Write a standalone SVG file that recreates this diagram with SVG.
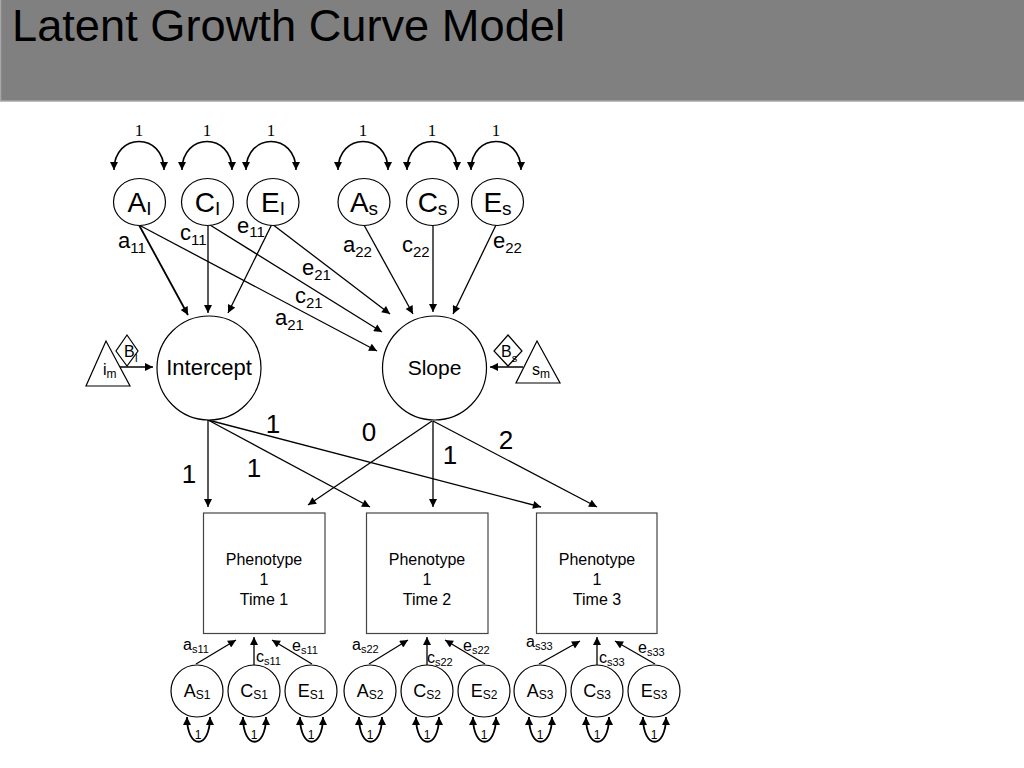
<svg xmlns="http://www.w3.org/2000/svg" width="1024" height="768" viewBox="0 0 1024 768">
<style>
text{font-family:"Liberation Sans",Arial,sans-serif;fill:#000}
.serif{font-family:"Liberation Serif","Times New Roman",serif}
.nd{fill:#fff;stroke:#000;stroke-width:1.2}
.box{fill:#fff;stroke:#444;stroke-width:1.2}
.c{stroke:#000;stroke-width:1.3;fill:none;marker-end:url(#ah)}
.lp{stroke:#000;stroke-width:1.5;fill:none;marker-start:url(#ah);marker-end:url(#ah)}
.lps{stroke:#000;stroke-width:1.8;fill:none;marker-start:url(#ahs);marker-end:url(#ahs)}
.mid{text-anchor:middle}
</style>
<defs>
<marker id="ah" viewBox="0 0 10 10" refX="10" refY="5" markerWidth="10" markerHeight="8" markerUnits="userSpaceOnUse" orient="auto-start-reverse"><path d="M0,0 L10,5 L0,10 z" fill="#000"/></marker>
<marker id="ahs" viewBox="0 0 10 10" refX="10" refY="5" markerWidth="9" markerHeight="8" markerUnits="userSpaceOnUse" orient="auto-start-reverse"><path d="M0,0 L10,5 L0,10 z" fill="#000"/></marker>
</defs>

<g id="header">
<rect x="0.5" y="-2" width="1030" height="103" fill="#808080" stroke="#a8a8a8" stroke-width="1.5"/>
<text x="12" y="41" font-size="45" textLength="553" lengthAdjust="spacingAndGlyphs">Latent Growth Curve Model</text>
</g>

<g id="connectors">
<path class="c" d="M139,225 L188,315" style="stroke-width:1.8"/>
<path class="c" d="M208,226 L208,313"/>
<path class="c" d="M272,224 L228,313"/>
<path class="c" d="M139,225 L377,351"/>
<path class="c" d="M210,225 L382,332"/>
<path class="c" d="M272,224 L390,314"/>
<path class="c" d="M364,225 L413,314"/>
<path class="c" d="M433,226 L433,312"/>
<path class="c" d="M496,225 L453,314"/>
<path class="c" d="M120,367 L153,367"/>
<path class="c" d="M523,367 L490,367"/>
<path class="c" d="M208,420 L208,507"/>
<path class="c" d="M208,420 L370,507"/>
<path class="c" d="M208,420 L541,507"/>
<path class="c" d="M432,421 L308,505"/>
<path class="c" d="M433,421 L433,507"/>
<path class="c" d="M433,421 L597,507"/>
<path class="c" d="M196,664 L236,640"/>
<path class="c" d="M254,665 L254,637"/>
<path class="c" d="M312,664 L272,640"/>
<path class="c" d="M369,664 L408,640"/>
<path class="c" d="M427,665 L427,637"/>
<path class="c" d="M485,664 L445,640"/>
<path class="c" d="M539,664 L580,641"/>
<path class="c" d="M597,665 L597,637"/>
<path class="c" d="M655,664 L615,641"/>
<path class="lp" d="M114,170 C114,132 164,132 164,170"/>
<path class="lp" d="M182,170 C182,132 232,132 232,170"/>
<path class="lp" d="M246,170 C246,132 296,132 296,170"/>
<path class="lp" d="M338,170 C338,132 388,132 388,170"/>
<path class="lp" d="M407,170 C407,132 457,132 457,170"/>
<path class="lp" d="M471,170 C471,132 521,132 521,170"/>
<path class="lps" d="M187,717 C187,750 210,750 210,717"/>
<path class="lps" d="M243,717 C243,750 266,750 266,717"/>
<path class="lps" d="M300,717 C300,750 323,750 323,717"/>
<path class="lps" d="M359,717 C359,750 382,750 382,717"/>
<path class="lps" d="M416,717 C416,750 439,750 439,717"/>
<path class="lps" d="M473,717 C473,750 496,750 496,717"/>
<path class="lps" d="M529,717 C529,750 552,750 552,717"/>
<path class="lps" d="M586,717 C586,750 609,750 609,717"/>
<path class="lps" d="M643,717 C643,750 666,750 666,717"/>
</g>

<g id="loop-labels">
<text class="serif mid" x="139" y="136" font-size="17">1</text>
<text class="serif mid" x="207" y="136" font-size="17">1</text>
<text class="serif mid" x="271" y="136" font-size="17">1</text>
<text class="serif mid" x="363" y="136" font-size="17">1</text>
<text class="serif mid" x="432" y="136" font-size="17">1</text>
<text class="serif mid" x="496" y="136" font-size="17">1</text>
<text class="mid" x="198" y="739" font-size="12">1</text>
<text class="mid" x="254" y="739" font-size="12">1</text>
<text class="mid" x="311" y="739" font-size="12">1</text>
<text class="mid" x="370" y="739" font-size="12">1</text>
<text class="mid" x="427" y="739" font-size="12">1</text>
<text class="mid" x="484" y="739" font-size="12">1</text>
<text class="mid" x="540" y="739" font-size="12">1</text>
<text class="mid" x="597" y="739" font-size="12">1</text>
<text class="mid" x="654" y="739" font-size="12">1</text>
</g>

<g id="path-labels" font-size="22">
<text x="118" y="248">a<tspan dy="5" font-size="15">11</tspan></text>
<text x="180" y="240">c<tspan dy="5" font-size="15">11</tspan></text>
<text x="237" y="233">e<tspan dy="4" font-size="15">11</tspan></text>
<text x="302" y="275">e<tspan dy="5" font-size="15">21</tspan></text>
<text x="295" y="303">c<tspan dy="5" font-size="15">21</tspan></text>
<text x="275" y="325">a<tspan dy="5" font-size="15">21</tspan></text>
<text x="343" y="252">a<tspan dy="5" font-size="15">22</tspan></text>
<text x="402" y="252">c<tspan dy="5" font-size="15">22</tspan></text>
<text x="493" y="248">e<tspan dy="5" font-size="15">22</tspan></text>
<text class="mid" x="189" y="483" font-size="26">1</text>
<text class="mid" x="254" y="477" font-size="26">1</text>
<text class="mid" x="273" y="433" font-size="26">1</text>
<text class="mid" x="369" y="441" font-size="26">0</text>
<text class="mid" x="450" y="464" font-size="26">1</text>
<text class="mid" x="506" y="449" font-size="26">2</text>
<text x="183" y="650" font-size="16">a<tspan dy="3" font-size="11">s11</tspan></text>
<text x="256" y="662" font-size="16">c<tspan dy="3" font-size="11">s11</tspan></text>
<text x="292" y="651" font-size="16">e<tspan dy="3" font-size="11">s11</tspan></text>
<text x="352" y="650" font-size="16">a<tspan dy="3" font-size="11">s22</tspan></text>
<text x="427" y="663" font-size="16">c<tspan dy="3" font-size="11">s22</tspan></text>
<text x="463" y="651" font-size="16">e<tspan dy="3" font-size="11">s22</tspan></text>
<text x="526" y="647" font-size="16">a<tspan dy="3" font-size="11">s33</tspan></text>
<text x="599" y="663" font-size="16">c<tspan dy="3" font-size="11">s33</tspan></text>
<text x="638" y="653" font-size="16">e<tspan dy="3" font-size="11">s33</tspan></text>
</g>

<g id="A_I"><ellipse class="nd" cx="139.5" cy="202" rx="26" ry="23.5"/><text class="mid" x="139.5" y="212" font-size="28">A<tspan dy="3" font-size="19">I</tspan></text></g>
<g id="C_I"><ellipse class="nd" cx="207.5" cy="202" rx="26" ry="23.5"/><text class="mid" x="207.5" y="212" font-size="28">C<tspan dy="3" font-size="19">I</tspan></text></g>
<g id="E_I"><ellipse class="nd" cx="273" cy="202" rx="26" ry="23.5"/><text class="mid" x="273" y="212" font-size="28">E<tspan dy="3" font-size="19">I</tspan></text></g>
<g id="A_s"><ellipse class="nd" cx="364" cy="202" rx="26" ry="23.5"/><text class="mid" x="364" y="212" font-size="28">A<tspan dy="3" font-size="19">s</tspan></text></g>
<g id="C_s"><ellipse class="nd" cx="432.5" cy="202" rx="26" ry="23.5"/><text class="mid" x="432.5" y="212" font-size="28">C<tspan dy="3" font-size="19">s</tspan></text></g>
<g id="E_s"><ellipse class="nd" cx="497.5" cy="202" rx="26" ry="23.5"/><text class="mid" x="497.5" y="212" font-size="28">E<tspan dy="3" font-size="19">s</tspan></text></g>

<g id="Intercept"><circle class="nd" cx="209" cy="368" r="52"/><text class="mid" x="209" y="375" font-size="22">Intercept</text></g>
<g id="Slope"><circle class="nd" cx="434.5" cy="368" r="52"/><text class="mid" x="434.5" y="375" font-size="21">Slope</text></g>

<g id="i_m"><polygon class="nd" points="106,341 86,386 130,386"/><text x="103" y="375" font-size="16">i<tspan dy="3" font-size="12">m</tspan></text></g>
<g id="B_I"><polygon class="nd" points="127,335 138,351 127,366 116,351"/><text x="124" y="357" font-size="16">B<tspan dy="5" font-size="11">I</tspan></text></g>
<g id="s_m"><polygon class="nd" points="537,341 516,383 560,383"/><text x="532" y="375" font-size="16">s<tspan dy="3" font-size="12">m</tspan></text></g>
<g id="B_s"><polygon class="nd" points="508,335 522,351 508,366 494,351"/><text x="501" y="357" font-size="16">B<tspan dy="5" font-size="11">s</tspan></text></g>

<g id="P1"><rect class="box" x="203.5" y="513" width="121.5" height="120.5"/><text class="mid" x="264" y="565" font-size="16">Phenotype</text><text class="mid" x="264" y="585" font-size="16">1</text><text class="mid" x="264" y="605" font-size="16">Time 1</text></g>
<g id="P2"><rect class="box" x="366.5" y="513" width="121.5" height="120.5"/><text class="mid" x="427" y="565" font-size="16">Phenotype</text><text class="mid" x="427" y="585" font-size="16">1</text><text class="mid" x="427" y="605" font-size="16">Time 2</text></g>
<g id="P3"><rect class="box" x="536.5" y="513" width="120.5" height="120.5"/><text class="mid" x="597" y="565" font-size="16">Phenotype</text><text class="mid" x="597" y="585" font-size="16">1</text><text class="mid" x="597" y="605" font-size="16">Time 3</text></g>

<g id="A_S1"><circle class="nd" cx="197" cy="691" r="26"/><text class="mid" x="197" y="697" font-size="18">A<tspan dy="2" font-size="12">S1</tspan></text></g>
<g id="C_S1"><circle class="nd" cx="254" cy="691" r="26"/><text class="mid" x="254" y="697" font-size="18">C<tspan dy="2" font-size="12">S1</tspan></text></g>
<g id="E_S1"><circle class="nd" cx="311" cy="691" r="26"/><text class="mid" x="311" y="697" font-size="18">E<tspan dy="2" font-size="12">S1</tspan></text></g>
<g id="A_S2"><circle class="nd" cx="370" cy="691" r="26"/><text class="mid" x="370" y="697" font-size="18">A<tspan dy="2" font-size="12">S2</tspan></text></g>
<g id="C_S2"><circle class="nd" cx="427" cy="691" r="26"/><text class="mid" x="427" y="697" font-size="18">C<tspan dy="2" font-size="12">S2</tspan></text></g>
<g id="E_S2"><circle class="nd" cx="484" cy="691" r="26"/><text class="mid" x="484" y="697" font-size="18">E<tspan dy="2" font-size="12">S2</tspan></text></g>
<g id="A_S3"><circle class="nd" cx="540" cy="691" r="26"/><text class="mid" x="540" y="697" font-size="18">A<tspan dy="2" font-size="12">S3</tspan></text></g>
<g id="C_S3"><circle class="nd" cx="597" cy="691" r="26"/><text class="mid" x="597" y="697" font-size="18">C<tspan dy="2" font-size="12">S3</tspan></text></g>
<g id="E_S3"><circle class="nd" cx="654" cy="691" r="26"/><text class="mid" x="654" y="697" font-size="18">E<tspan dy="2" font-size="12">S3</tspan></text></g>
</svg>
